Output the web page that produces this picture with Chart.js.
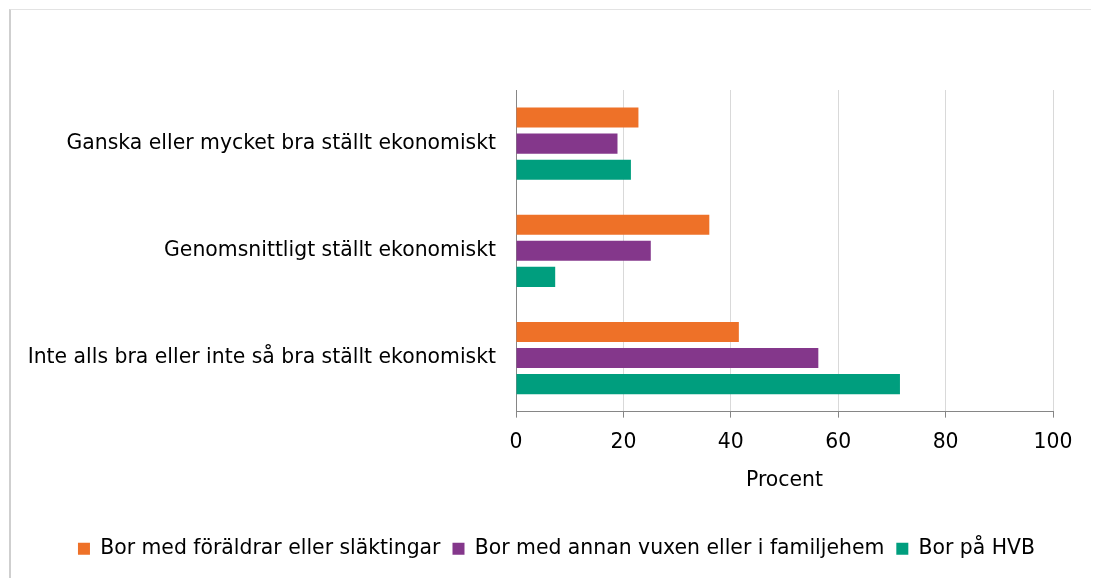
<!DOCTYPE html>
<html>
<head>
<meta charset="utf-8">
<script src="https://cdn.jsdelivr.net/npm/chart.js@4"></script>
<style>
  html, body { margin: 0; padding: 0; background: #fff; }
  #frame { position: absolute; left: 9px; top: 9px; width: 1080px; height: 580px;
           border-top: 1px solid #e3e3e3; border-left: 2px solid #cfcfcf; }
  #wrap { position: absolute; left: 0; top: 0; width: 1095px; height: 578px; }
</style>
</head>
<body>
<div id="frame"></div>
<div id="wrap"><canvas id="myChart"></canvas></div>
<script>
var categories = [
    'Ganska eller mycket bra ställt ekonomiskt',
    'Genomsnittligt ställt ekonomiskt',
    'Inte alls bra eller inte så bra ställt ekonomiskt'
];
var seriesNames = [
    'Bor med föräldrar eller släktingar',
    'Bor med annan vuxen eller i familjehem',
    'Bor på HVB'
];
var foraldrar = [22.8, 36.0, 41.5];
var annanVuxen = [18.9, 25.1, 56.3];
var hvb = [21.4, 7.3, 71.5];
var colors = ['#ee7128', '#84378b', '#009e7e'];

var font = { family: "'DejaVu Sans', sans-serif", size: 20.4 };
Chart.defaults.font.family = font.family;
Chart.defaults.color = '#000';

// nudge the legend a bit to the right, like in the original
var legendShift = {
    id: 'legendShift',
    afterLayout: function (chart) {
        chart.legend.left += 30;
        chart.legend.right += 30;
    }
};

var ctx = document.getElementById('myChart').getContext('2d');
var myChart = new Chart(ctx, {
    type: 'bar',
    data: {
        labels: categories,
        datasets: [
            { label: seriesNames[0], data: foraldrar, backgroundColor: colors[0] },
            { label: seriesNames[1], data: annanVuxen, backgroundColor: colors[1] },
            { label: seriesNames[2], data: hvb, backgroundColor: colors[2] }
        ]
    },
    plugins: [legendShift],
    options: {
        indexAxis: 'y',
        responsive: true,
        maintainAspectRatio: false,
        animation: false,
        categoryPercentage: 0.73,
        barPercentage: 0.77,
        layout: { padding: { top: 90, right: 42, left: 0, bottom: 9 } },
        plugins: {
            tooltip: { enabled: false },
            legend: {
                position: 'bottom',
                labels: { font: font, boxWidth: 12, boxHeight: 12, padding: 12 }
            }
        },
        scales: {
            x: {
                min: 0,
                max: 100,
                ticks: { stepSize: 20, font: font, padding: 13 },
                grid: { color: '#d9d9d9', tickColor: '#868686', tickLength: 6 },
                border: { color: '#868686' },
                title: { display: true, text: 'Procent', font: font, padding: { top: 0, bottom: 34 } }
            },
            y: {
                ticks: { font: font, padding: 12 },
                grid: { display: false },
                border: { color: '#868686' },
                afterFit: function (scale) { scale.width = 516; }
            }
        }
    }
});
</script>
</body>
</html>
